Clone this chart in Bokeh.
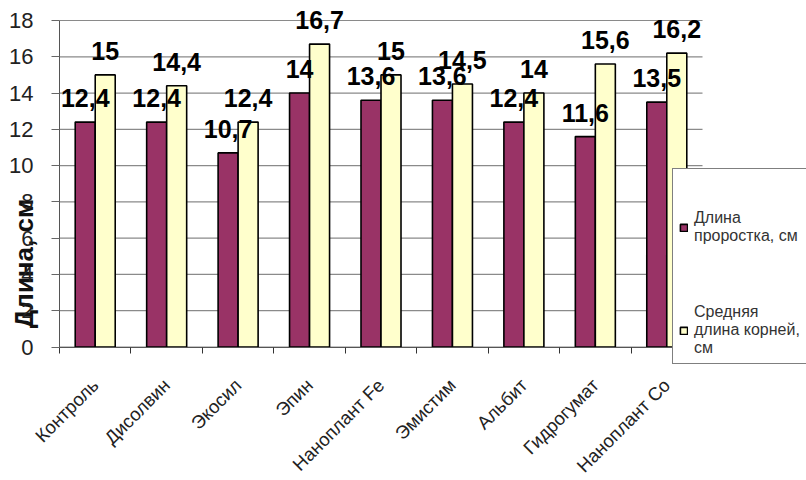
import math
from bokeh.plotting import figure
from bokeh.models import (Range1d, FixedTicker, ColumnDataSource, Legend, LegendItem)
from bokeh.core.properties import value
from bokeh.embed import file_html
from bokeh.resources import INLINE

categories = ["Контроль", "Дисолвин", "Экосил", "Эпин", "Наноплант Fe",
              "Эмистим", "Альбит", "Гидрогумат", "Наноплант Co"]
sprout = [12.4, 12.4, 10.7, 14, 13.6, 13.6, 12.4, 11.6, 13.5]
roots = [15, 14.4, 12.4, 16.7, 15, 14.5, 14, 15.6, 16.2]
series_names = ["Длина\nпроростка, см", "Средняя\nдлина корней,\nсм"]
y_ticks = [0, 2, 4, 6, 8, 10, 12, 14, 16, 18]
y_title = "Длина, см"

FONT = "Liberation Sans"
MAROON = "#993366"
CREAM = "#FFFFCC"

# layout (pixels): the frame covers the whole canvas, axes are pinned inside it
W, H = 806, 480
AX_LEFT, AX_BOTTOM, AX_TOP = 59, 346.5, 20
PLOT_W = 643
Y_MAX = 18
n = len(categories)
xpu = PLOT_W / n
ypu = (AX_BOTTOM - AX_TOP) / Y_MAX
x_start = -0.5 - AX_LEFT / xpu
x_end = x_start + W / xpu
y_end = AX_BOTTOM / ypu
y_start = -(H - AX_BOTTOM) / ypu

def fmt(v):
    return ("%g" % v).replace(".", ",")

idx = list(range(n))
off = 0.14
bw = 0.28
src1 = ColumnDataSource(dict(x=[i - off for i in idx], top=sprout, lab=[fmt(v) for v in sprout]))
src2 = ColumnDataSource(dict(x=[i + off for i in idx], top=roots, lab=[fmt(v) for v in roots]))

p = figure(width=W, height=H, output_backend="svg", toolbar_location=None,
           x_range=Range1d(x_start, x_end), y_range=Range1d(y_start, y_end),
           min_border_left=0, min_border_right=0, min_border_top=0, min_border_bottom=0)
p.outline_line_color = None
p.background_fill_color = "white"
p.border_fill_color = "white"
p.xgrid.visible = False
p.ygrid.visible = False

# horizontal gridlines limited to the category area
p.segment(x0=[-0.5] * len(y_ticks), x1=[n - 0.5] * len(y_ticks), y0=y_ticks, y1=y_ticks,
          line_color="#8a8a8a", line_width=1.2)

r1 = p.vbar(x="x", top="top", width=bw, source=src1, fill_color=MAROON,
            line_color="black", line_width=1.6)
r2 = p.vbar(x="x", top="top", width=bw, source=src2, fill_color=CREAM,
            line_color="black", line_width=1.6)

for src in (src1, src2):
    p.text(x="x", y="top", text="lab", source=src, text_align="center",
           text_baseline="bottom", y_offset=-15, text_font=value(FONT),
           text_font_style="bold", text_font_size="25px", text_color="black")

# y axis title (overlaps the tick labels, as in the original)
p.text(x=[-0.5 + (23 - AX_LEFT) / xpu], y=[(AX_BOTTOM - 263) / ypu], text=[y_title],
       angle=math.pi / 2, text_align="center", text_baseline="middle",
       text_font=value(FONT), text_font_style="bold", text_font_size="26px",
       text_color="#111111")

# y axis
yax = p.yaxis[0]
yax.fixed_location = -0.5
yax.bounds = (0, Y_MAX)
yax.ticker = FixedTicker(ticks=y_ticks)
yax.major_tick_out = 8
yax.major_tick_in = 0
yax.minor_tick_out = 0
yax.minor_tick_in = 0
yax.major_tick_line_color = "#666666"
yax.axis_line_color = "#555555"
yax.major_label_standoff = 18
yax.major_label_text_font = FONT
yax.major_label_text_font_size = "22px"
yax.major_label_text_color = "#222222"

# x axis
xax = p.xaxis[0]
xax.fixed_location = 0
xax.bounds = (-0.5, n - 0.5)
xax.ticker = FixedTicker(ticks=idx, minor_ticks=[i - 0.5 for i in range(n + 1)])
xax.major_label_overrides = {i: c for i, c in zip(idx, categories)}
xax.major_tick_out = 0
xax.major_tick_in = 0
xax.minor_tick_out = 6
xax.minor_tick_in = 0
xax.minor_tick_line_color = "#333333"
xax.axis_line_color = "#555555"
xax.major_label_orientation = math.pi / 4
xax.major_label_text_font = FONT
xax.major_label_text_font_size = "18.5px"
xax.major_label_text_color = "#222222"
xax.major_label_standoff = 29

legend = Legend(items=[LegendItem(label=series_names[0], renderers=[r1]),
                       LegendItem(label=series_names[1], renderers=[r2])],
                location=(672, H - 364), orientation="vertical")
legend.title = " "
legend.title_text_font_size = "18px"
legend.title_standoff = 13
legend.glyph_width = 9
legend.glyph_height = 9
legend.label_standoff = 6
legend.padding = 6
legend.spacing = 58
legend.margin = 0
legend.label_text_font = FONT
legend.label_text_font_size = "16px"
legend.label_text_line_height = 1.3
legend.label_text_color = "#333333"
legend.border_line_color = "black"
legend.border_line_width = 1
legend.background_fill_color = "white"
legend.background_fill_alpha = 1
p.add_layout(legend)

open("out.html", "w").write(file_html(p, INLINE))
